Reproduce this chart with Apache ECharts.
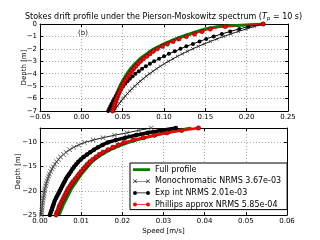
<!DOCTYPE html>
<html><head><meta charset="utf-8">
<script src="https://cdn.jsdelivr.net/npm/echarts@6/dist/echarts.min.js"></script>
<style>html,body{margin:0;padding:0;background:#fff}#c{width:320px;height:240px}</style>
</head><body><div id="c"></div>
<script>
// ---- data ----
const legendLabels = ['Full profile', 'Monochromatic NRMS 3.67e-03', 'Exp int NRMS 2.01e-03', 'Phillips approx NRMS 5.85e-04'];

const xTicksTop = [-0.05, 0.00, 0.05, 0.10, 0.15, 0.20, 0.25];
const yTicksTop = [-7, -6, -5, -4, -3, -2, -1, 0];
const xTicksBot = [0.00, 0.01, 0.02, 0.03, 0.04, 0.05, 0.06];
const yTicksBot = [-25, -20, -15, -10];
const yMaxBot = -7;

const depthTop = [0,-0.2,-0.4,-0.6,-0.8,-1.0,-1.2,-1.4,-1.6,-1.8,-2.0,-2.2,-2.4,-2.6,-2.8,-3.0,-3.2,-3.4,-3.6,-3.8,-4.0,-4.2,-4.4,-4.6,-4.8,-5.0,-5.2,-5.4,-5.6,-5.8,-6.0,-6.2,-6.4,-6.6,-6.8,-7.0];
const fullTop = [0.220,0.166,0.150,0.140,0.131,0.122,0.114,0.107,0.100,0.094,0.088,0.083,0.079,0.075,0.071,0.0678,0.0648,0.0621,0.0596,0.0573,0.0552,0.0532,0.0514,0.0497,0.0481,0.0466,0.0452,0.0439,0.0427,0.0416,0.0405,0.0395,0.0386,0.0377,0.0369,0.0361];
const monoTop = [0.220,0.2095,0.1995,0.1899,0.1808,0.1722,0.1640,0.1561,0.1487,0.1415,0.1348,0.1283,0.1222,0.1163,0.1108,0.1055,0.1004,0.0956,0.0911,0.0867,0.0826,0.0786,0.0749,0.0713,0.0679,0.0646,0.0615,0.0586,0.0558,0.0531,0.0506,0.0482,0.0459,0.0437,0.0416,0.0396];
const expTop = [0.220,0.202,0.191,0.180,0.170,0.160,0.151,0.143,0.135,0.127,0.120,0.113,0.106,0.100,0.094,0.088,0.083,0.078,0.0735,0.0695,0.0655,0.0620,0.0588,0.0558,0.0530,0.0504,0.0480,0.0458,0.0437,0.0418,0.0400,0.0383,0.0367,0.0352,0.0338,0.0325];
const philTop = [0.220,0.174,0.156,0.146,0.137,0.127,0.118,0.111,0.104,0.098,0.092,0.087,0.083,0.079,0.075,0.0715,0.0685,0.0658,0.0632,0.0608,0.0585,0.0564,0.0545,0.0527,0.0510,0.0494,0.0479,0.0465,0.0452,0.0440,0.0428,0.0417,0.0407,0.0397,0.0388,0.0379];

const depthBot = [-7,-7.5,-8,-8.5,-9,-9.5,-10,-10.5,-11,-11.5,-12,-12.5,-13,-13.5,-14,-14.5,-15,-15.5,-16,-16.5,-17,-17.5,-18,-18.5,-19,-19.5,-20,-20.5,-21,-21.5,-22,-22.5,-23,-23.5,-24,-24.5,-25];
const fullBot = [0.0368,0.0335,0.0306,0.0280,0.0256,0.0234,0.0214,0.0198,0.0184,0.0171,0.0160,0.0150,0.0141,0.0133,0.0126,0.0121,0.0116,0.0111,0.0106,0.0101,0.0097,0.0093,0.0089,0.0085,0.0081,0.0077,0.0074,0.0071,0.0068,0.0065,0.0062,0.0059,0.0056,0.0054,0.0051,0.0049,0.0047];
const monoBot = [0.0270,0.0240,0.0211,0.0181,0.0153,0.0129,0.0108,0.0094,0.0082,0.0072,0.0063,0.0057,0.0050,0.0045,0.0040,0.0036,0.0032,0.0029,0.0026,0.0023,0.0021,0.0019,0.0017,0.0015,0.0014,0.0012,0.0011,0.0010,0.0009,0.0008,0.0007,0.0006,0.00055,0.0005,0.00045,0.0004,0.00035];
const expBot = [0.0330,0.0294,0.0262,0.0233,0.0207,0.0184,0.0164,0.0152,0.0141,0.0131,0.0122,0.0114,0.0106,0.0099,0.0093,0.0088,0.0083,0.0079,0.0075,0.0071,0.0067,0.0063,0.0060,0.0057,0.0054,0.0051,0.0048,0.0045,0.0042,0.0039,0.0036,0.0034,0.0032,0.0030,0.0028,0.0026,0.0024];
const philBot = [0.0385,0.0344,0.0309,0.0278,0.0251,0.0226,0.0204,0.0190,0.0177,0.0165,0.0153,0.0144,0.0136,0.0128,0.0121,0.0115,0.0110,0.0105,0.0100,0.0095,0.0091,0.0086,0.0081,0.0077,0.0073,0.0069,0.0066,0.0063,0.0060,0.0057,0.0054,0.0051,0.0048,0.0046,0.0044,0.0041,0.0039];

// ---- styling ----
const FONT = 'DejaVu Sans';
const MINUS = '\u2212';
const xSym = 'path://M0,1L1,0L5,4L9,0L10,1L6,5L10,9L9,10L5,6L1,10L0,9L4,5Z';
const BB = 'M0,0L0.01,0ZM17,8L16.99,8Z';
const ICON_FULL = 'path://' + BB + 'M0,2.6L17,2.6L17,5.4L0,5.4Z';
const ICON_MONO = 'path://' + BB +
  'M0,2.4L0.4,2L2,3.6L3.6,2L4,2.4L2.4,4L4,5.6L3.6,6L2,4.4L0.4,6L0,5.6L1.6,4Z' +
  'M13,2.4L13.4,2L15,3.6L16.6,2L17,2.4L15.4,4L17,5.6L16.6,6L15,4.4L13.4,6L13,5.6L14.6,4Z' +
  'M2.4,3.65L14.6,3.65L14.6,4.35L2.4,4.35Z';
const ICON_DOT = 'path://' + BB +
  'M0,4A2,2 0 1 0 4,4A2,2 0 1 0 0,4Z' +
  'M13,4A2,2 0 1 0 17,4A2,2 0 1 0 13,4Z' +
  'M4,3.6L13,3.6L13,4.4L4,4.4Z';

function fmt(v, d) {
  if (Math.abs(v) < 1e-9) return d ? (0).toFixed(d) : '0';
  const s = d ? Math.abs(v).toFixed(d) : String(Math.round(Math.abs(v)));
  return (v < 0 ? MINUS : '') + s;
}
function pairs(vals, depth) { return vals.map((v, i) => [v, depth[i]]); }

const labelStyle = {color: '#000', fontFamily: FONT, fontSize: 7};
function mainX(grid, ticks) {
  return {
    type: 'value', gridIndex: grid, position: 'bottom',
    min: ticks[0], max: ticks[ticks.length - 1], interval: ticks[1] - ticks[0],
    axisLine: {show: true, onZero: false, lineStyle: {color: '#000', width: 1}},
    axisTick: {show: true, inside: true, length: 3, lineStyle: {color: '#000'}},
    axisLabel: Object.assign({margin: 3, formatter: v => fmt(v, 2)}, labelStyle),
    splitLine: {show: true, lineStyle: {color: '#aaa', type: [1, 2], width: 1}}
  };
}
function sideX(grid, ticks) {
  return {
    type: 'value', gridIndex: grid, position: 'top',
    min: ticks[0], max: ticks[ticks.length - 1], interval: ticks[1] - ticks[0],
    axisLine: {show: true, onZero: false, lineStyle: {color: '#000', width: 1}},
    axisTick: {show: true, inside: true, length: 3, lineStyle: {color: '#000'}},
    axisLabel: {show: false}, splitLine: {show: false}
  };
}
function mainY(grid, ticks, max, gap) {
  return {
    type: 'value', gridIndex: grid, position: 'left',
    min: ticks[0], max: max, interval: ticks[1] - ticks[0],
    name: 'Depth [m]', nameLocation: 'middle', nameGap: gap, nameMoveOverlap: false,
    nameTextStyle: {color: '#000', fontFamily: FONT, fontSize: 7},
    axisLine: {show: true, onZero: false, lineStyle: {color: '#000', width: 1}},
    axisTick: {show: true, inside: true, length: 3, lineStyle: {color: '#000'}},
    axisLabel: Object.assign({margin: 3, showMaxLabel: max === ticks[ticks.length - 1], formatter: v => fmt(v, 0)}, labelStyle),
    splitLine: {show: true, lineStyle: {color: '#aaa', type: [1, 2], width: 1}}
  };
}
function sideY(grid, ticks, max) {
  return {
    type: 'value', gridIndex: grid, position: 'right',
    min: ticks[0], max: max, interval: ticks[1] - ticks[0],
    axisLine: {show: true, onZero: false, lineStyle: {color: '#000', width: 1}},
    axisTick: {show: true, inside: true, length: 3, lineStyle: {color: '#000'}},
    axisLabel: {show: false}, splitLine: {show: false}
  };
}

function seriesFor(xi, yi, depth, full, mono, exp, phil, thick) {
  return [
    {name: legendLabels[0], type: 'line', xAxisIndex: xi, yAxisIndex: yi, data: pairs(full, depth),
     symbol: 'none', lineStyle: {color: '#008000', width: 3}, itemStyle: {color: '#008000'}, z: 2},
    {name: legendLabels[1], type: 'line', xAxisIndex: xi, yAxisIndex: yi, data: pairs(mono, depth),
     symbol: xSym, symbolSize: thick ? 5 : 3.5, lineStyle: {color: '#000', width: 0.9},
     itemStyle: {color: thick ? '#555' : '#222'}, z: 3},
    {name: legendLabels[2], type: 'line', xAxisIndex: xi, yAxisIndex: yi, data: pairs(exp, depth),
     symbol: 'circle', symbolSize: thick ? 4.5 : 4, lineStyle: {color: '#000', width: thick ? 3.5 : 1}, itemStyle: {color: '#000'}, z: 4},
    {name: legendLabels[3], type: 'line', xAxisIndex: xi, yAxisIndex: yi, data: pairs(phil, depth),
     symbol: 'circle', symbolSize: 4.5, lineStyle: {color: '#ff0000', width: thick ? 2.5 : 1},
     itemStyle: {color: '#ff0000', borderColor: '#000', borderWidth: 0.4}, z: 5}
  ];
}

const chart = echarts.init(document.getElementById('c'), null, {renderer: 'canvas', width: 320, height: 240});
chart.setOption({
  animation: false,
  backgroundColor: '#fff',
  title: {
    text: '{a|Stokes drift profile under the Pierson-Moskowitz spectrum (}{t|T}{s|p}{a| = 10 s)}',
    left: 25, top: 12, padding: 0,
    textStyle: {fontWeight: 'normal', rich: {
      a: {fontFamily: FONT, fontSize: 8, fontWeight: 'normal', color: '#000'},
      t: {fontFamily: FONT, fontSize: 8, fontWeight: 'normal', fontStyle: 'italic', color: '#000'},
      s: {fontFamily: FONT, fontSize: 5.5, fontWeight: 'normal', fontStyle: 'italic', color: '#000', padding: [4, 0, 0, 0]}
    }}
  },
  graphic: [{type: 'text', left: 78, top: 30, style: {text: '(b)', fill: '#000', font: '7px "DejaVu Sans"'}}],
  grid: [
    {left: 40, top: 24, width: 248, height: 87, show: false},
    {left: 40, top: 128, width: 247, height: 87, show: false}
  ],
  xAxis: [
    mainX(0, xTicksTop), sideX(0, xTicksTop),
    Object.assign(mainX(1, xTicksBot), {name: 'Speed [m/s]', nameLocation: 'middle', nameGap: 13, nameMoveOverlap: false,
      nameTextStyle: {color: '#000', fontFamily: FONT, fontSize: 7}}),
    sideX(1, xTicksBot)
  ],
  yAxis: [
    mainY(0, yTicksTop, yTicksTop[yTicksTop.length - 1], 12), sideY(0, yTicksTop, yTicksTop[yTicksTop.length - 1]),
    mainY(1, yTicksBot, yMaxBot, 18), sideY(1, yTicksBot, yMaxBot)
  ],
  legend: {
    left: 130, top: 163, orient: 'vertical', selectedMode: false,
    itemWidth: 17, itemHeight: 8, itemGap: 3.67, symbolKeepAspect: true,
    padding: [2.6, 6, 1, 3],
    backgroundColor: '#fff', borderColor: '#000', borderWidth: 1, borderRadius: 0,
    textStyle: {color: '#000', fontFamily: FONT, fontSize: 8, lineHeight: 8},
    data: [
      {name: legendLabels[0], icon: ICON_FULL, itemStyle: {borderWidth: 0}},
      {name: legendLabels[1], icon: ICON_MONO, itemStyle: {color: '#222', borderWidth: 0}},
      {name: legendLabels[2], icon: ICON_DOT, itemStyle: {borderWidth: 0}},
      {name: legendLabels[3], icon: ICON_DOT, itemStyle: {borderWidth: 0}}
    ]
  },
  series: [].concat(
    seriesFor(0, 0, depthTop, fullTop, monoTop, expTop, philTop, false),
    seriesFor(2, 2, depthBot, fullBot, monoBot, expBot, philBot, true)
  )
});
</script></body></html>
